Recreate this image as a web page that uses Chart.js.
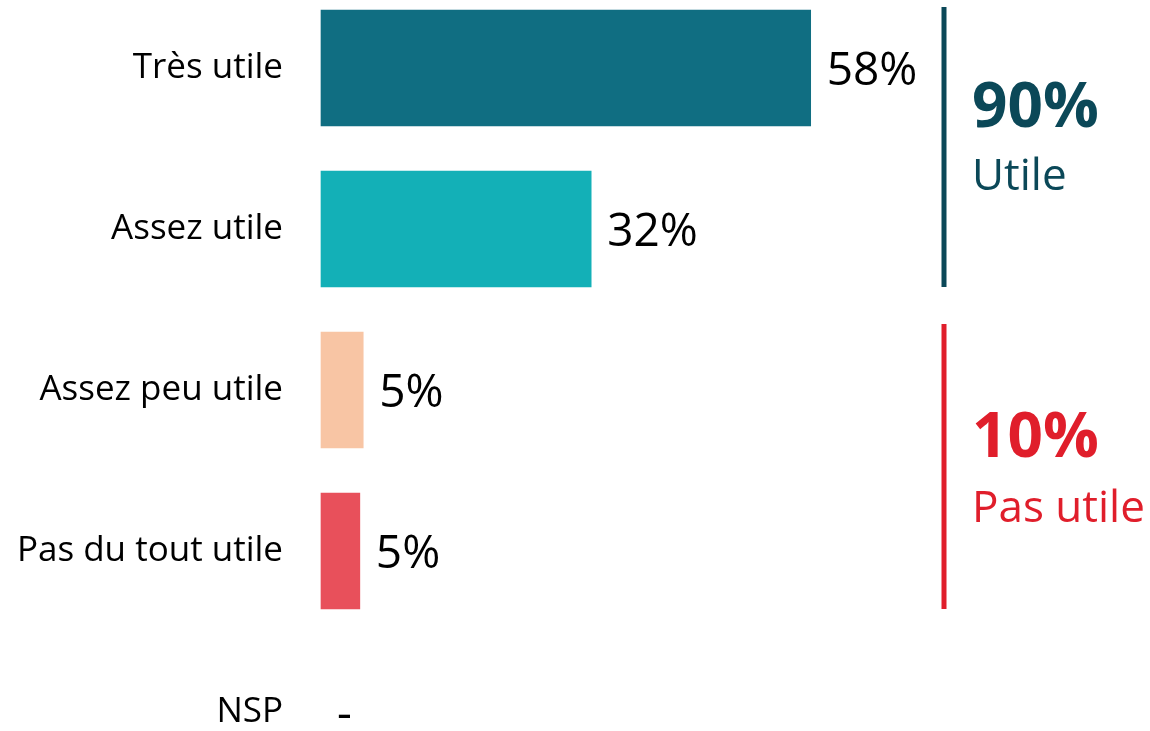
<!DOCTYPE html>
<html>
<head>
<meta charset="utf-8">
<script src="https://cdn.jsdelivr.net/npm/chart.js@4/dist/chart.umd.min.js"></script>
<style>
  html, body { margin: 0; padding: 0; background: #ffffff; }
  #wrap { width: 1150px; height: 731px; position: relative; }
</style>
</head>
<body>
<div id="wrap"><canvas id="c"></canvas></div>
<script>
// ---- Data ----
const categories = ["Très utile", "Assez utile", "Assez peu utile", "Pas du tout utile", "NSP"];
const values = [58, 32, 5, 4.6, null];
const barColors = ["#106E82", "#13B0B7", "#F8C5A4", "#E8505B", "#FFFFFF"];
const groupNames = ["Utile", "Pas utile"];
const groupMembers = [[0, 1], [2, 3]];
const groupColors = ["#0B4858", "#E01E2B"];

const FONT = "'Open Sans', 'Noto Sans', sans-serif";

const labelPlugin = {
  id: 'barLabels',
  afterDatasetsDraw(chart) {
    const ctx = chart.ctx;
    const meta = chart.getDatasetMeta(0);
    const xs = chart.scales.x;
    ctx.save();
    ctx.font = "46px " + FONT;
    ctx.fillStyle = "#000000";
    ctx.textAlign = "left";
    ctx.textBaseline = "middle";
    meta.data.forEach((bar, i) => {
      const v = values[i];
      const txt = (v === null) ? "-" : Math.round(v) + "%";
      const xEnd = xs.getPixelForValue(v === null ? 0 : v);
      ctx.fillText(txt, xEnd + 16, bar.y + 4);
    });
    ctx.restore();
  }
};

const groupPlugin = {
  id: 'groups',
  afterDraw(chart) {
    const ctx = chart.ctx;
    const ys = chart.scales.y;
    const lineX = chart.chartArea.right + 32;
    const half = 58;
    const offsets = [[120, 183], [133, 198]];
    const extra = [3, 8];
    ctx.save();
    groupMembers.forEach((members, g) => {
      const top = ys.getPixelForValue(members[0]) - half - extra[g];
      const bottom = ys.getPixelForValue(members[members.length - 1]) + half;
      ctx.strokeStyle = groupColors[g];
      ctx.lineWidth = 5;
      ctx.beginPath();
      ctx.moveTo(lineX, top);
      ctx.lineTo(lineX, bottom);
      ctx.stroke();
      const total = members.reduce((s, m) => s + Math.round(values[m]), 0);
      ctx.fillStyle = groupColors[g];
      ctx.textAlign = "left";
      ctx.textBaseline = "alphabetic";
      ctx.font = "bold 62px " + FONT;
      ctx.fillText(total + "%", lineX + 28, top + offsets[g][0]);
      ctx.font = "44px " + FONT;
      ctx.fillText(groupNames[g], lineX + 28, top + offsets[g][1]);
    });
    ctx.restore();
  }
};

new Chart(document.getElementById('c'), {
  type: 'bar',
  data: {
    labels: categories,
    datasets: [{
      data: values,
      backgroundColor: barColors,
      borderWidth: 0,
      barThickness: 116,
      clip: false
    }]
  },
  options: {
    indexAxis: 'y',
    responsive: true,
    maintainAspectRatio: false,
    animation: false,
    layout: { padding: { left: 0, right: 238, top: 68, bottom: 19 } },
    plugins: { legend: { display: false }, tooltip: { enabled: false } },
    scales: {
      x: { display: false, min: 0, max: 70 },
      y: {
        offset: false,
        grid: { display: false, drawTicks: false },
        border: { display: false },
        ticks: {
          padding: 38,
          color: "#000000",
          font: { family: FONT, size: 35 }
        },
        afterFit(scale) {
          scale.width = 321;
          scale.paddingTop = 0;
          scale.paddingBottom = 0;
        }
      }
    }
  },
  plugins: [labelPlugin, groupPlugin]
});
</script>
</body>
</html>
